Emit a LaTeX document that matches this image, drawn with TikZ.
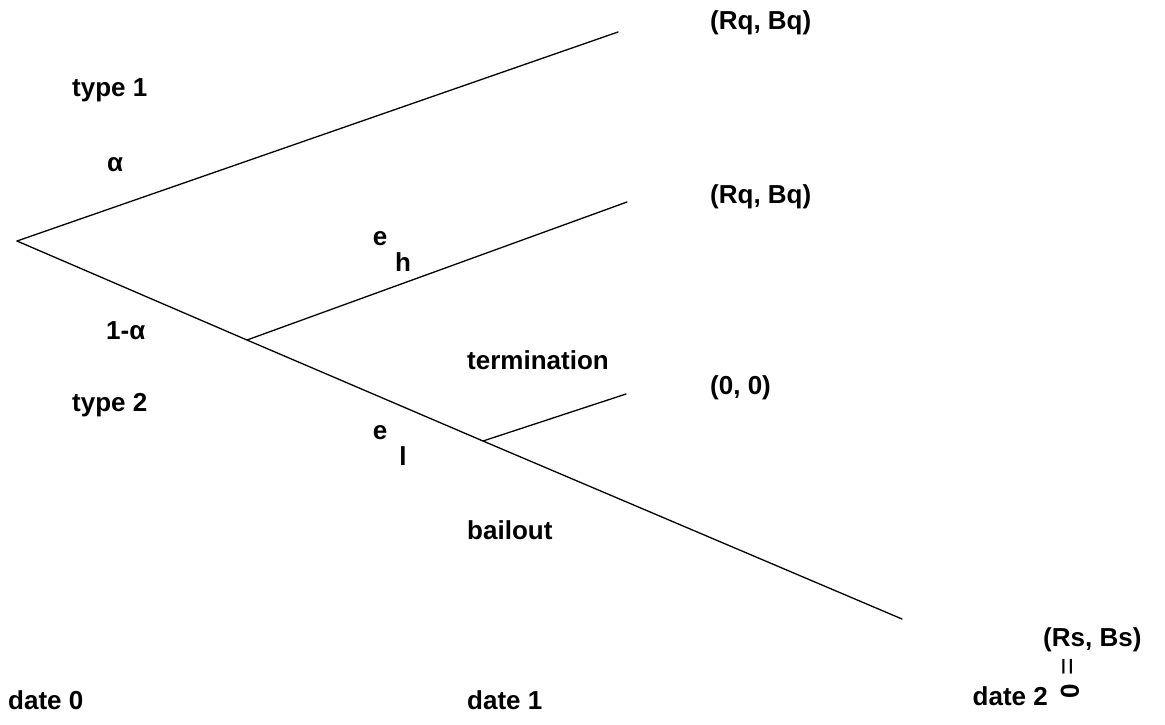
\documentclass[tikz,border=0pt]{standalone}
\usepackage{fontspec}
\setmainfont{Liberation Sans}
\begin{document}
\begin{tikzpicture}[x=1pt,y=-1pt,
  lbl/.style={font=\fontsize{26}{30}\selectfont\bfseries, inner sep=0pt, anchor=west},
  sym/.style={font=\fontsize{26}{30}\selectfont\bfseries, inner sep=0pt},
  branch/.style={line width=1.3pt, line cap=round}]
\useasboundingbox (0,0) rectangle (1165,724);
% tree points
\coordinate (root) at (17,241);
\coordinate (top) at (618,32);
\coordinate (n1) at (247,340);
\coordinate (n2) at (483,441);
\coordinate (h) at (627,202);
\coordinate (t) at (626,394);
\coordinate (bend) at (902,619);
% branches
\draw[branch] (root) -- (top);
\draw[branch] (root) -- (n1) -- (n2) -- (bend);
\draw[branch] (n1) -- (h);
\draw[branch] (n2) -- (t);
% labels
\node[lbl] (type1) at (72,90) {type 1};
\node[sym] (alpha) at (115,165) {α};
\node[lbl] (onem) at (106,331) {1-α};
\node[lbl] (type2) at (72,405) {type 2};
\node[sym] (eh) at (380,239) {e};
\node[sym] (hs) at (403,262) {h};
\node[sym] (el) at (380,433) {e};
\node[sym] (ls) at (403,456) {l};
\node[lbl] (term) at (467,360) {termination};
\node[lbl] (bail) at (467,530) {bailout};
\node[lbl] (p1) at (710,23) {(Rq, Bq)};
\node[lbl] (p2) at (710,197) {(Rq, Bq)};
\node[lbl] (p3) at (710,388) {(0, 0)};
\node[lbl] (p4) at (1043,640) {(Rs, Bs)};
\node[sym, font=\fontsize{30}{34}\selectfont, rotate=90] (eq) at (1070,667) {=};
\node[sym, rotate=90] (zero) at (1070,691) {0};
\node[lbl] (d0) at (8,700) {date 0};
\node[lbl] (d1) at (467,700) {date 1};
\node[lbl, anchor=east] (d2) at (1048,696) {date 2};
\end{tikzpicture}
\end{document}
